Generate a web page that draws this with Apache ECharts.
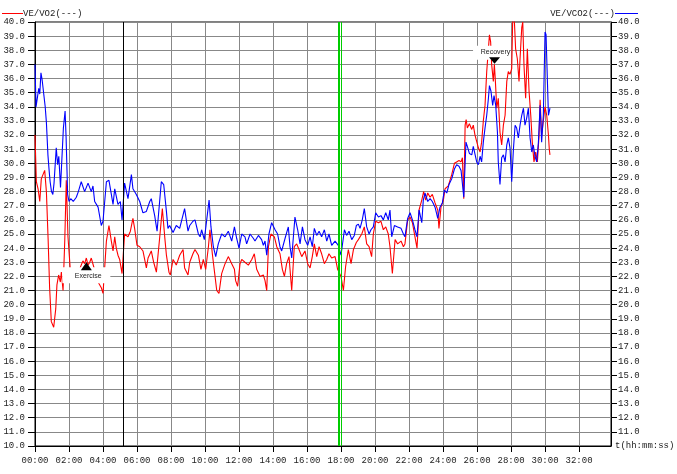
<!DOCTYPE html>
<html><head><meta charset="utf-8">
<script src="https://cdn.jsdelivr.net/npm/echarts@6/dist/echarts.min.js"></script>
<style>html,body{margin:0;padding:0;background:#fff}#c{width:677px;height:474px}</style>
</head><body><div id="c"></div>
<script>
// time in minutes, values VE/VO2 (red)
const timeVO2 = [0,0.08,0.18,0.28,0.37,0.57,0.67,0.77,0.86,0.96,1.1,1.22,1.29,1.39,1.49,1.55,1.65,1.75,1.84,1.94,2.08,2.2,2.35,2.5,2.65,2.82,2.92,3.02,3.12,3.22,3.31,3.45,3.61,3.71,3.9,4.0,4.2,4.35,4.49,4.59,4.69,4.78,4.88,4.98,5.12,5.27,5.47,5.61,5.76,5.86,6.0,6.16,6.35,6.55,6.65,6.84,6.98,7.14,7.33,7.49,7.63,7.73,7.88,7.96,8.12,8.31,8.51,8.71,8.8,9.0,9.1,9.29,
9.41,9.61,9.76,9.9,10.04,10.2,10.29,10.43,10.59,10.69,10.82,10.98,11.18,11.37,11.57,11.73,11.8,11.92,12.06,12.16,12.35,12.55,12.75,12.9,13.04,13.24,13.43,13.53,13.63,13.73,13.88,14.08,14.22,14.41,14.55,14.67,14.8,14.94,15.1,15.25,15.39,15.53,15.69,15.88,16.04,16.18,16.31,16.43,16.57,16.71,16.86,17.02,17.16,17.29,17.45,17.65,17.8,18.0,18.14,18.27,18.43,18.59,18.73,
18.9,19.02,19.22,19.37,19.51,19.65,19.8,19.9,20.04,20.2,20.35,20.49,20.63,20.78,20.88,21.02,21.18,21.33,21.53,21.67,21.76,21.92,22.06,22.2,22.35,22.47,22.59,22.75,22.86,22.98,23.1,23.24,23.37,23.53,23.69,23.76,23.88,24.02,24.12,24.31,24.51,24.67,24.8,24.94,25.06,25.14,25.22,25.3,25.36,25.43,25.55,25.69,25.78,25.88,25.98,26.08,26.18,26.27,26.37,26.47,26.57,26.67,26.73,26.8,26.86,26.96,27.02,27.08,27.16,27.25,27.35,27.45,27.55,27.65,27.75,27.84,27.94,28.04,28.1,28.18,28.27,28.37,28.47,28.53,28.63,28.69,28.76,28.86,28.96,29.06,29.16,29.25,29.35,29.45,29.55,29.65,29.71,29.8,29.9,30.0,30.1,30.2,30.25,30.29];
const veVO2 = [32.0,28.7,28.2,27.3,28.9,29.5,28.0,24.7,21.2,18.8,18.4,19.7,21.4,22.1,21.6,22.3,21.0,24.5,28.8,24.8,22.4,22.0,21.6,22.3,22.6,23.1,22.9,23.3,22.8,23.0,23.3,22.7,22.0,21.6,21.2,20.8,24.5,25.6,24.5,23.8,24.8,24.0,23.5,23.2,22.2,25.0,24.8,25.2,26.1,25.4,24.2,24.1,23.8,22.6,23.3,23.8,23.0,22.3,24.7,26.8,24.8,23.5,22.3,22.1,23.2,22.8,23.5,23.9,22.6,22.1,23.0,23.6,
23.9,23.5,22.5,23.2,22.5,24.1,25.3,23.6,22.0,21.0,20.8,22.2,22.9,23.4,22.9,22.5,21.7,21.3,22.9,23.2,23.0,22.8,23.2,23.6,22.5,22.0,22.1,21.7,21.0,24.1,25.0,24.8,24.1,23.6,22.5,22.0,22.9,23.4,21.0,24.1,24.3,23.9,23.4,23.8,22.9,22.6,23.4,24.3,23.4,24.1,23.6,22.9,23.2,23.6,23.3,23.4,22.5,22.0,21.0,22.7,23.9,22.9,23.9,
24.4,24.6,25.0,25.5,24.3,24.1,23.4,25.0,25.9,25.8,25.9,25.3,25.5,25.0,24.1,22.2,24.6,24.3,24.5,24.1,24.3,26.0,26.2,25.8,24.8,24.0,26.7,27.4,28.0,27.4,27.9,27.6,27.8,27.2,26.7,25.4,26.9,27.4,28.2,28.4,29.2,30.0,30.1,30.2,30.1,30.4,27.5,32.7,33.1,32.5,32.8,32.4,32.7,32.0,32.0,31.1,30.8,31.5,33.0,34.1,36.5,38.1,39.1,38.6,37.0,35.8,37.0,35.8,33.9,34.6,32.2,31.3,32.7,33.4,35.8,36.5,36.3,36.7,40.3,40.5,38.1,37.4,35.8,37.4,39.6,40.0,37.0,34.6,38.1,35.1,33.4,31.5,30.1,30.8,30.1,32.0,34.5,32.0,33.0,34.0,33.4,32.0,31.0,30.6];
// time in minutes, values VE/VCO2 (blue)
const timeVCO2 = [0,0.06,0.14,0.22,0.28,0.35,0.42,0.47,0.52,0.6,0.67,0.76,0.83,0.89,0.97,1.05,1.12,1.25,1.33,1.4,1.5,1.59,1.67,1.77,1.83,1.92,2.0,2.1,2.25,2.43,2.55,2.72,2.92,3.12,3.31,3.41,3.51,3.71,3.9,4.0,4.2,4.35,4.49,4.59,4.69,4.88,5.02,5.12,5.27,5.47,5.67,5.76,5.96,6.16,6.35,6.55,6.75,6.84,7.04,7.18,7.43,7.57,7.73,7.82,7.92,8.12,8.31,8.51,8.8,9.0,9.1,9.29,
9.41,9.61,9.71,9.8,9.96,10.1,10.24,10.35,10.49,10.63,10.78,10.98,11.18,11.37,11.57,11.73,11.86,12.0,12.16,12.35,12.45,12.65,12.84,12.94,13.14,13.33,13.43,13.53,13.63,13.76,13.92,14.12,14.27,14.41,14.51,14.71,14.9,15.0,15.1,15.29,15.45,15.59,15.73,15.88,16.04,16.18,16.31,16.43,16.57,16.71,16.86,17.02,17.16,17.29,17.45,17.65,17.84,18.0,18.2,18.33,18.47,18.63,18.78,
18.9,19.02,19.12,19.25,19.37,19.51,19.65,19.76,19.9,20.04,20.2,20.35,20.49,20.63,20.78,20.88,20.98,21.14,21.33,21.53,21.67,21.76,21.92,22.06,22.2,22.35,22.47,22.59,22.75,22.84,22.94,23.1,23.24,23.37,23.53,23.69,23.82,23.96,24.08,24.22,24.35,24.51,24.67,24.8,24.94,25.06,25.22,25.35,25.43,25.55,25.69,25.78,25.88,25.98,26.08,26.18,26.27,26.37,26.47,26.57,26.67,26.73,26.82,26.92,27.0,27.1,27.2,27.25,27.35,27.45,27.55,27.65,27.75,27.84,27.94,28.04,28.14,28.24,28.33,28.43,28.53,28.63,28.73,28.82,28.92,29.02,29.12,29.22,29.31,29.41,29.51,29.61,29.71,29.8,29.9,30.0,30.06,30.14,30.2,30.29];
const veVCO2 = [37.0,34.0,34.1,35.3,34.9,36.4,35.9,36.0,35.8,34.0,32.9,30.6,29.5,28.7,28.0,27.8,28.6,31.1,29.9,30.5,28.3,28.2,32.5,33.7,31.8,27.8,27.3,27.5,27.3,27.6,28.0,28.7,28.0,28.6,28.0,28.4,27.3,26.9,25.6,25.9,28.7,28.8,27.8,27.1,28.2,27.1,27.3,26.0,28.6,27.5,29.2,28.2,27.8,27.3,26.5,26.6,27.3,27.5,26.3,25.2,28.7,28.5,26.6,25.4,25.6,25.1,25.6,25.4,26.8,25.2,25.6,25.9,
26.0,25.0,24.8,25.3,24.6,26.0,27.4,25.5,24.1,23.4,24.3,25.0,24.8,25.2,24.5,25.5,24.7,24.0,25.0,24.8,24.3,25.0,24.7,24.5,24.9,24.6,24.2,24.5,23.5,25.0,25.8,25.3,25.0,24.1,23.8,24.7,25.5,24.1,23.3,26.2,25.3,24.3,25.5,24.6,24.2,24.8,24.1,25.4,24.9,25.2,24.8,25.3,24.5,25.0,24.2,24.5,24.2,23.5,25.3,24.9,25.2,24.6,24.9,
25.6,25.7,25.4,26.0,26.8,25.5,25.0,25.3,25.5,26.5,26.2,26.3,26.0,26.5,26.0,26.7,24.8,25.6,25.5,25.4,25.0,24.8,26.1,26.5,26.0,25.3,24.8,26.7,25.8,27.4,27.9,27.3,27.5,27.3,26.9,26.1,26.9,27.2,28.1,27.9,28.5,28.9,29.6,29.9,29.8,29.5,27.6,31.5,31.2,30.7,30.6,31.2,31.1,30.1,29.9,30.5,30.1,31.5,32.5,33.4,34.6,35.5,35.1,34.1,34.8,34.1,32.2,30.1,28.5,30.4,30.6,30.1,31.3,31.8,31.1,28.7,31.0,32.7,32.5,31.8,32.7,33.4,33.9,32.7,33.2,33.9,31.8,30.8,31.3,30.5,30.1,31.5,34.1,31.5,33.4,39.3,39.1,35.8,33.4,33.9];
const eventLines = [{t:5.2, color:'#000000', w:1}, {t:17.9, color:'#00cc00', w:2}, {t:18.0, color:'#00cc00', w:1}];
const annotations = [{text:'Exercise', t:3.02, v:23.0, dir:'up'}, {text:'Recovery', t:27.03, v:37.05, dir:'down'}];
const yLabelsFmt = v => v.toFixed(1);
const xLabelsFmt = v => (v < 10 ? '0' : '') + Math.round(v) + ':00';

const mono = '"Liberation Mono", "Courier New", monospace';
const sans = '"Liberation Sans", Arial, sans-serif';
const labelColor = '#222';
const chart = echarts.init(document.getElementById('c'), null, {renderer:'canvas'});

const yBase = {
  type:'value', min:10, max:40, interval:1,
  axisLine:{show:true, lineStyle:{color:'#000', width:1}},
  axisTick:{show:true, lineStyle:{color:'#000'}},
  axisLabel:{fontFamily:mono, fontSize:9, color:labelColor, formatter:yLabelsFmt}
};

chart.setOption({
  animation:false,
  grid:{left:35, right:66, top:22, bottom:28, show:true, borderColor:'#000', borderWidth:1, containLabel:false, outerBoundsMode:'none'},
  xAxis:{
    type:'value', min:0, max:33.88, interval:2,
    name:'t(hh:mm:ss)', nameLocation:'end', nameGap:4, nameMoveOverlap:false,
    nameTextStyle:{fontFamily:mono, fontSize:9, color:labelColor},
    axisLine:{show:true, lineStyle:{color:'#000'}},
    axisTick:{show:true, length:6, lineStyle:{color:'#000'}},
    axisLabel:{fontFamily:mono, fontSize:9, color:labelColor, margin:10, formatter:xLabelsFmt, showMaxLabel:false},
    splitLine:{show:true, lineStyle:{color:'#888', width:1}}
  },
  yAxis:[
    Object.assign({}, yBase, {position:'left', axisTick:{show:true, length:7, lineStyle:{color:'#000'}},
      axisLabel:Object.assign({}, yBase.axisLabel, {margin:10}),
      splitLine:{show:true, lineStyle:{color:'#888', width:1}}}),
    Object.assign({}, yBase, {position:'right', axisTick:{show:true, length:6, lineStyle:{color:'#000'}},
      axisLabel:Object.assign({}, yBase.axisLabel, {margin:7, showMinLabel:false}),
      splitLine:{show:false}})
  ],
  series:[
    {type:'line', name:'VE/VO2', yAxisIndex:0, showSymbol:false, symbol:'none',
     data:timeVO2.map((t,i)=>[t, veVO2[i]]),
     lineStyle:{color:'#ff0000', width:1.1}},
    {type:'line', name:'VE/VCO2', yAxisIndex:1, showSymbol:false, symbol:'none',
     data:timeVCO2.map((t,i)=>[t, veVCO2[i]]),
     lineStyle:{color:'#0000ff', width:1.1}}
  ]
});

const g = [
  {type:'line', shape:{x1:2, y1:13.5, x2:23, y2:13.5}, style:{stroke:'#ff0000', lineWidth:1}},
  {type:'text', x:23, y:13.5, style:{text:'VE/VO2(---)', font:'9px ' + mono, fill:labelColor, textVerticalAlign:'middle', textAlign:'left'}},
  {type:'text', x:615, y:13.5, style:{text:'VE/VCO2(---)', font:'9px ' + mono, fill:labelColor, textVerticalAlign:'middle', textAlign:'right'}},
  {type:'line', shape:{x1:615, y1:13.5, x2:638, y2:13.5}, style:{stroke:'#0000ff', lineWidth:1}}
];
eventLines.forEach(e => {
  const top = chart.convertToPixel({gridIndex:0}, [e.t, 40]);
  const bot = chart.convertToPixel({gridIndex:0}, [e.t, 10]);
  const x = Math.round(top[0]) + (e.w % 2 ? 0.5 : 0);
  g.push({type:'line', shape:{x1:x, y1:top[1], x2:x, y2:bot[1]}, style:{stroke:e.color, lineWidth:e.w}, z:50, silent:true});
});
annotations.forEach(a => {
  const p = chart.convertToPixel({gridIndex:0}, [a.t, a.v]);
  if (a.dir === 'up') {
    g.push({type:'rect', shape:{x:p[0]-24, y:p[1]+5, width:48, height:16}, style:{fill:'#fff'}, z:100});
    g.push({type:'text', x:p[0]-11.5, y:p[1]+13.5, style:{text:a.text, font:'7px ' + sans, fill:'#222', textVerticalAlign:'middle', textAlign:'left'}, z:101});
    g.push({type:'polygon', shape:{points:[[p[0], p[1]], [p[0]-5.5, p[1]+8], [p[0]+5.5, p[1]+8]]}, style:{fill:'#000'}, z:102});
  } else {
    g.push({type:'rect', shape:{x:p[0]-21.5, y:p[1]-18, width:37, height:14}, style:{fill:'#fff'}, z:100});
    g.push({type:'text', x:p[0]-13.8, y:p[1]-12, style:{text:a.text, font:'7px ' + sans, fill:'#222', textVerticalAlign:'middle', textAlign:'left'}, z:101});
    g.push({type:'polygon', shape:{points:[[p[0], p[1]], [p[0]-5.5, p[1]-6.5], [p[0]+5.5, p[1]-6.5]]}, style:{fill:'#000'}, z:102});
  }
});
chart.setOption({graphic:g});
</script>
</body></html>
